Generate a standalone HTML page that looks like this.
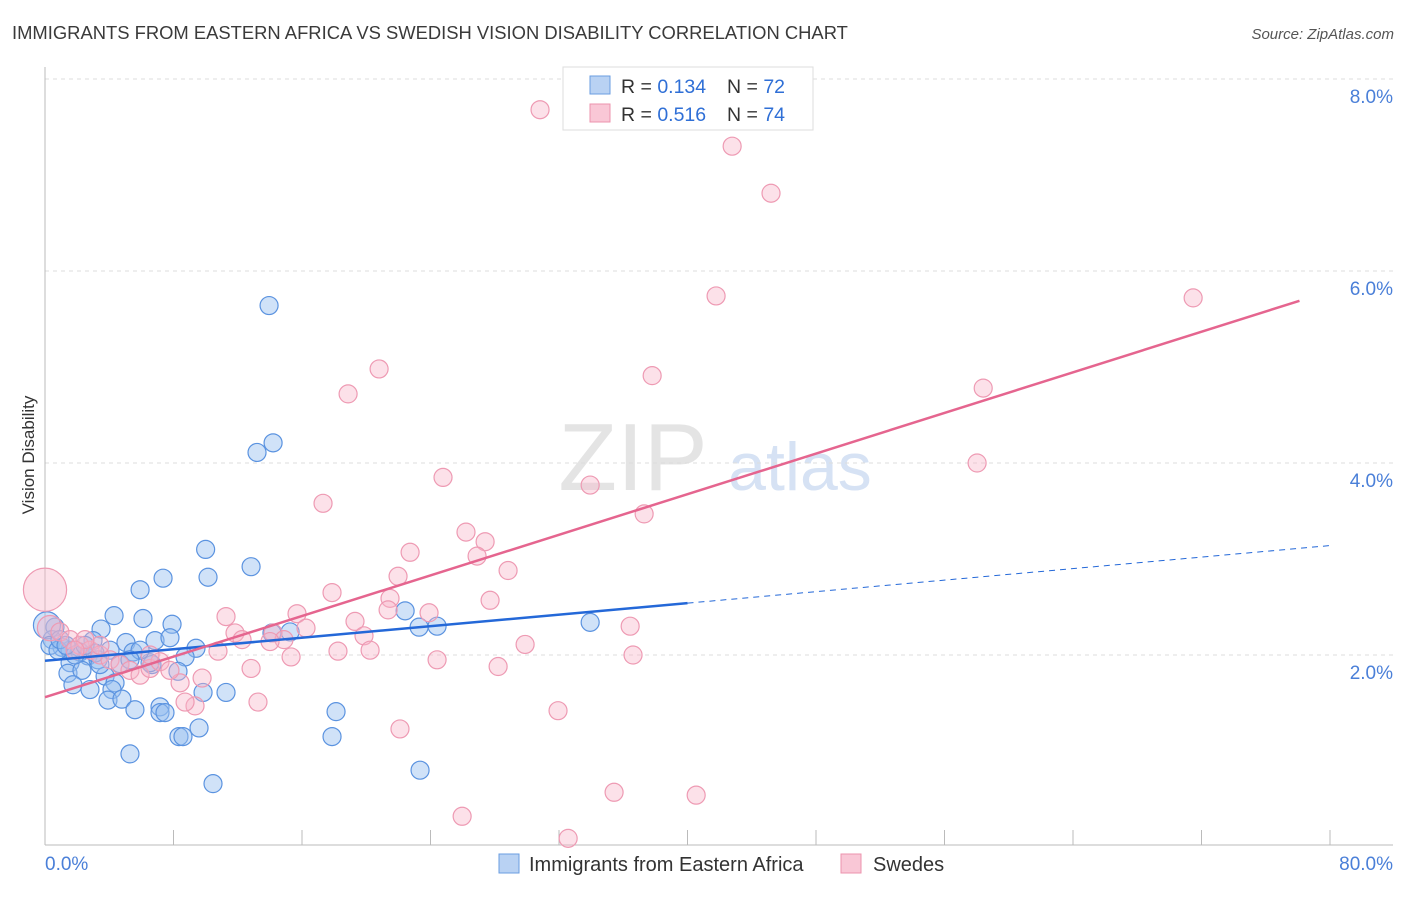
<!DOCTYPE html>
<html><head><meta charset="utf-8"><style>
body{margin:0;background:#fff;font-family:"Liberation Sans",sans-serif;}
svg text{font-family:"Liberation Sans",sans-serif;}
</style></head><body>
<svg id="chart" width="1406" height="892" xmlns="http://www.w3.org/2000/svg">
<text x="12" y="39" font-size="18.4" fill="#3a3a3a">IMMIGRANTS FROM EASTERN AFRICA VS SWEDISH VISION DISABILITY CORRELATION CHART</text>
<text x="1394" y="39" font-size="15" fill="#555" text-anchor="end" font-style="italic">Source: ZipAtlas.com</text>
<text transform="translate(34,455) rotate(-90)" font-size="17" fill="#333" text-anchor="middle">Vision Disability</text>
<g>
<text x="633" y="490" font-size="96" fill="#e4e4e4" text-anchor="middle" font-family="Liberation Serif">ZIP</text>
<text x="800" y="490" font-size="68" fill="#d6e2f4" text-anchor="middle">atlas</text>
</g>
<g id="grid"></g><g id="axes"></g><g id="pts"></g><g id="lines"></g>
<g>
<rect x="563" y="67" width="250" height="63" fill="#fff" stroke="#ddd"/>
<rect x="590" y="76" width="20" height="18" fill="#b9d2f3" stroke="#6a9de0"/>
<rect x="590" y="104" width="20" height="18" fill="#f9c7d6" stroke="#ec93ad"/>
<text x="621" y="93" font-size="19.5" fill="#333">R = <tspan fill="#2f6fd6">0.134</tspan></text>
<text x="727" y="93" font-size="19.5" fill="#333">N = <tspan fill="#2f6fd6">72</tspan></text>
<text x="621" y="121" font-size="19.5" fill="#333">R = <tspan fill="#2f6fd6">0.516</tspan></text>
<text x="727" y="121" font-size="19.5" fill="#333">N = <tspan fill="#2f6fd6">74</tspan></text>
</g>
<g>
<rect x="499" y="854" width="20" height="19" fill="#b9d2f3" stroke="#6a9de0"/>
<text x="529" y="871" font-size="20" fill="#333">Immigrants from Eastern Africa</text>
<rect x="841" y="854" width="20" height="19" fill="#f9c7d6" stroke="#ec93ad"/>
<text x="873" y="871" font-size="20" fill="#333">Swedes</text>
</g>
</svg>
<script>
const blueX=[13.95,14.2,13.2,10.0,10.15,7.35,12.83,5.92,4.3,6.1,7.91,3.49,2.99,5.04,6.85,7.78,9.4,8.72,5.48,4.05,0.62,0.44,1.06,1.56,2.18,2.68,3.3,1.56,4.67,6.66,8.28,1.43,2.3,3.74,4.36,1.74,4.17,3.92,4.79,9.84,11.27,5.6,7.16,7.16,7.47,8.34,8.59,9.59,5.29,10.46,18.12,17.87,23.35,22.42,24.41,23.29,33.94,15.26,14.13,0.12,0.31,0.81,1.87,3.11,6.54,5.92,5.29,0.93,1.31,2.49,3.42,2.8];
const blueY=[5.64,4.21,4.11,3.10,2.81,2.80,2.92,2.68,2.41,2.38,2.32,2.27,2.15,2.13,2.15,2.18,2.07,1.98,2.03,2.05,2.29,2.16,2.08,2.05,2.03,1.99,1.95,1.92,1.91,1.90,1.83,1.81,1.84,1.78,1.71,1.69,1.64,1.53,1.54,1.61,1.61,1.43,1.46,1.40,1.40,1.15,1.15,1.24,0.97,0.66,1.41,1.15,0.80,2.46,2.30,2.29,2.34,2.24,2.23,2.31,2.10,2.05,2.0,2.02,1.92,2.05,1.95,2.16,2.10,2.10,1.90,1.64];
const blueSize=blueX.map((v,i)=>i===59?1.5:1);
const pinkX=[30.82,42.78,45.2,41.78,71.48,20.8,18.87,37.8,58.41,58.03,24.78,17.31,33.94,37.3,26.21,27.4,22.73,26.9,28.83,21.98,17.87,27.71,21.48,21.36,23.91,15.69,11.27,19.3,36.43,16.25,11.83,14.2,12.27,19.86,14.88,29.89,14.01,18.24,20.24,36.61,15.32,10.77,24.41,28.21,12.83,8.41,9.78,9.34,8.72,13.26,22.1,31.94,35.43,40.54,25.97,32.57,0,0.31,0.93,1.56,2.18,2.8,3.42,4.05,4.67,5.29,5.92,6.54,7.16,7.78,6.54,3.42,2.49,1.87];
const pinkY=[7.68,7.30,6.81,5.74,5.72,4.98,4.72,4.91,4.78,4.0,3.85,3.58,3.77,3.47,3.28,3.18,3.07,3.03,2.88,2.82,2.65,2.57,2.59,2.47,2.44,2.43,2.40,2.35,2.30,2.28,2.23,2.23,2.16,2.20,2.16,2.11,2.14,2.04,2.05,2.0,1.98,2.04,1.95,1.88,1.86,1.71,1.76,1.47,1.51,1.51,1.23,1.42,0.57,0.54,0.32,0.09,2.68,2.28,2.24,2.16,2.10,2.05,2.0,1.95,1.90,1.84,1.79,1.86,1.93,1.84,2.0,2.10,2.16,2.05];
const pinkSize=pinkX.map((v,i)=>i===56?2.4:(i===57?1.4:1));
const yTicks=[2,4,6,8];
const xTickLabels=["0.0%","80.0%"];
const blueTrend=[1.94,2.54,3.14]; // at 0, 40, 80
const pinkTrend=[1.56,5.69]; // at 0, 78.1
const X=v=>45+v*1285/80, Y=v=>847-v*96;
const NS="http://www.w3.org/2000/svg";
function mk(p,t,a){const e=document.createElementNS(NS,t);for(const k in a)e.setAttribute(k,a[k]);p.appendChild(e);return e;}
const grid=document.getElementById('grid'),axes=document.getElementById('axes'),pts=document.getElementById('pts'),lines=document.getElementById('lines');
yTicks.forEach(t=>{
 const g=mk(grid,'line',{x1:45,x2:1393,y1:Y(t),y2:Y(t),stroke:'#ddd','stroke-dasharray':'4,4'});
 
 
 const l=mk(axes,'text',{x:1393,y:Y(t)+24,'font-size':19,fill:'#4a7fd8','text-anchor':'end'});l.textContent=t.toFixed(1)+'%';
 
 
});
const ax=mk(axes,'line',{x1:45,x2:1393,y1:845,y2:845,stroke:'#bbb'});


const ay=mk(axes,'line',{x1:45,x2:45,y1:67,y2:845,stroke:'#bbb'});


for(let i=0;i<=10;i++){const t=mk(axes,'line',{x1:X(i*8),x2:X(i*8),y1:830,y2:845,stroke:'#bbb'});
 
 }
const xl0=mk(axes,'text',{x:45,y:870,'font-size':19,fill:'#4a7fd8'});xl0.textContent=xTickLabels[0];


const xl1=mk(axes,'text',{x:1393,y:870,'font-size':19,fill:'#4a7fd8','text-anchor':'end'});xl1.textContent=xTickLabels[1];


blueX.forEach((v,i)=>{const c=mk(pts,'circle',{cx:X(v),cy:Y(blueY[i]),r:9*blueSize[i],fill:'rgba(150,190,240,0.45)',stroke:'#5b93e0','stroke-width':1.2});
 
 });
pinkX.forEach((v,i)=>{const c=mk(pts,'circle',{cx:X(v),cy:Y(pinkY[i]),r:9*pinkSize[i],fill:'rgba(248,180,200,0.4)',stroke:'#ee9ab3','stroke-width':1.2});
 
 });
const b1=mk(lines,'line',{x1:X(0),y1:Y(blueTrend[0]),x2:X(40),y2:Y(blueTrend[1]),stroke:'#2468d8','stroke-width':2.5});


const b2=mk(lines,'line',{x1:X(40),y1:Y(blueTrend[1]),x2:X(80),y2:Y(blueTrend[2]),stroke:'#2468d8','stroke-width':1,'stroke-dasharray':'6,5'});


const p1=mk(lines,'line',{x1:X(0),y1:Y(pinkTrend[0]),x2:X(78.1),y2:Y(pinkTrend[1]),stroke:'#e5658f','stroke-width':2.5});


</script>
</body></html>
